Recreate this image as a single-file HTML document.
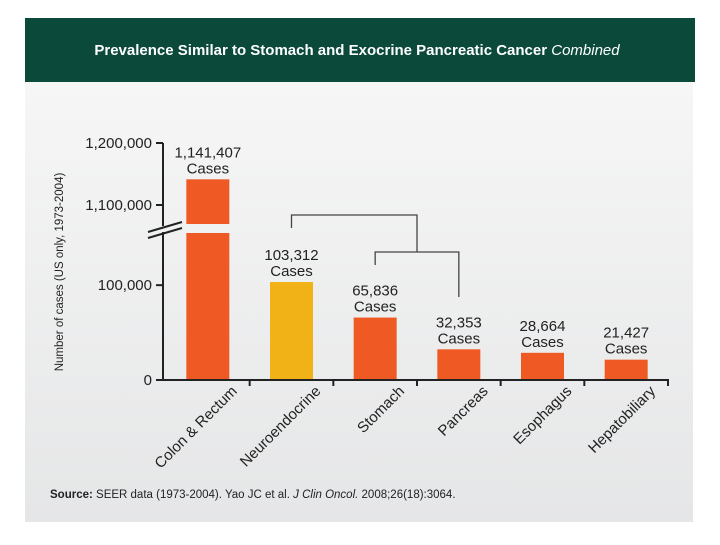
<!DOCTYPE html>
<html><head><meta charset="utf-8"><style>
body{margin:0;background:#fff;width:720px;height:540px;overflow:hidden;font-family:"Liberation Sans",Arial,sans-serif}
</style></head><body>
<svg id="chart" width="720" height="540" xmlns="http://www.w3.org/2000/svg">
<defs><linearGradient id="bg" x1="0" y1="0" x2="0" y2="1"><stop offset="0" stop-color="#f6f6f6"/><stop offset="1" stop-color="#e5e6e7"/></linearGradient></defs>
<rect x="25" y="82" width="668" height="440" fill="url(#bg)"/>
<rect x="25" y="18" width="670" height="64" fill="#0b4a3b"/>
<text x="357" y="55" text-anchor="middle" fill="#fff" font-size="15" font-weight="bold">Prevalence Similar to Stomach and Exocrine Pancreatic Cancer <tspan font-style="italic" font-weight="normal">Combined</tspan></text>
<text transform="translate(63,272) rotate(-90)" text-anchor="middle" font-size="11.5" fill="#222">Number of cases (US only, 1973-2004)</text>
<text x="50" y="498" font-size="11.5" fill="#222"><tspan font-weight="bold">Source:</tspan> SEER data (1973-2004). Yao JC et al. <tspan font-style="italic">J Clin Oncol.</tspan> 2008;26(18):3064.</text>
<g id="g"></g>
</svg>
<script>
const categories=["Colon & Rectum","Neuroendocrine","Stomach","Pancreas","Esophagus","Hepatobiliary"];
const values=[1141407,103312,65836,32353,28664,21427];
const valueLabels=["1,141,407","103,312","65,836","32,353","28,664","21,427"];
const highlight=[false,true,false,false,false,false];
const lowerTicks=[0,100000];
const upperTicks=[1100000,1200000];
const tickLabels=["0","100,000","1,100,000","1,200,000"];
const NS="http://www.w3.org/2000/svg";
const g=document.getElementById('g');
const x0=166,x1=668,step=(x1-x0)/categories.length,bw=43;
const LOW_MAX=155000,UP_MIN=1069355,UP_MAX=1200000;
function yLow(v){return 380-(v/LOW_MAX)*(380-233);}
function yUp(v){return 224-((v-UP_MIN)/(UP_MAX-UP_MIN))*(224-143);}
function y(v){return v<=LOW_MAX?yLow(v):yUp(v);}
function xc(i){return x0+step*(i+0.5);}
function el(t,a){const e=document.createElementNS(NS,t);for(const k in a)e.setAttribute(k,a[k]);g.appendChild(e);return e;}
categories.forEach((c,i)=>{
  const fill=highlight[i]?"#f0b216":"#ef5a24";
  const cx=xc(i);
  if(values[i]>LOW_MAX){
    const r1=el('rect',{x:cx-bw/2,y:yLow(LOW_MAX),width:bw,height:380-yLow(LOW_MAX),fill});
    
    
    const r2=el('rect',{x:cx-bw/2,y:yUp(values[i]),width:bw,height:224-yUp(values[i]),fill});
    
    
  } else {
    const r=el('rect',{x:cx-bw/2,y:y(values[i]),width:bw,height:380-y(values[i]),fill});
    
    
  }
  const top=y(values[i]);
  const t=el('text',{x:cx,y:top-22,'text-anchor':'middle','font-size':15,fill:'#222'});
  t.textContent=valueLabels[i];
  
  
  const t2=el('text',{x:cx,y:top-6,'text-anchor':'middle','font-size':15,fill:'#222'});
  t2.textContent="Cases";
  
  
  const lx=cx+30,ly=392;
  const cl=el('text',{x:lx,y:ly,'text-anchor':'end','font-size':15,fill:'#222',transform:`rotate(-45 ${lx} ${ly})`});
  cl.textContent=c;
  
  
  const tk=el('line',{x1:x0+step*(i+1),x2:x0+step*(i+1),y1:380,y2:386,stroke:'#222','stroke-width':2});
  
  
});
const xa=el('line',{x1:163,x2:x1+1,y1:380,y2:380,stroke:'#222','stroke-width':2});


const ya1=el('line',{x1:163,x2:163,y1:381,y2:232,stroke:'#222','stroke-width':2});


const ya2=el('line',{x1:163,x2:163,y1:226,y2:143,stroke:'#222','stroke-width':2});


[[148,238,182,228],[148,232,182,222]].forEach((p,k)=>{
  const b=el('line',{x1:p[0],y1:p[1],x2:p[2],y2:p[3],stroke:'#222','stroke-width':2});
  
  
});
lowerTicks.concat(upperTicks).forEach((v,k)=>{
  const yy=y(v);
  const l=el('line',{x1:156,x2:163,y1:yy,y2:yy,stroke:'#222','stroke-width':2});
  
  
  const t=el('text',{x:152,y:yy+5,'text-anchor':'end','font-size':15,fill:'#222'});
  t.textContent=tickLabels[k];
  
  
});
const b1=el('path',{d:`M${xc(1)} 228 V215 H${(xc(2)+xc(3))/2} V252`,fill:'none',stroke:'#444','stroke-width':1.3});


const b2=el('path',{d:`M${xc(2)} 265 V252 H${xc(3)} V297`,fill:'none',stroke:'#444','stroke-width':1.3});


</script>
</body></html>
